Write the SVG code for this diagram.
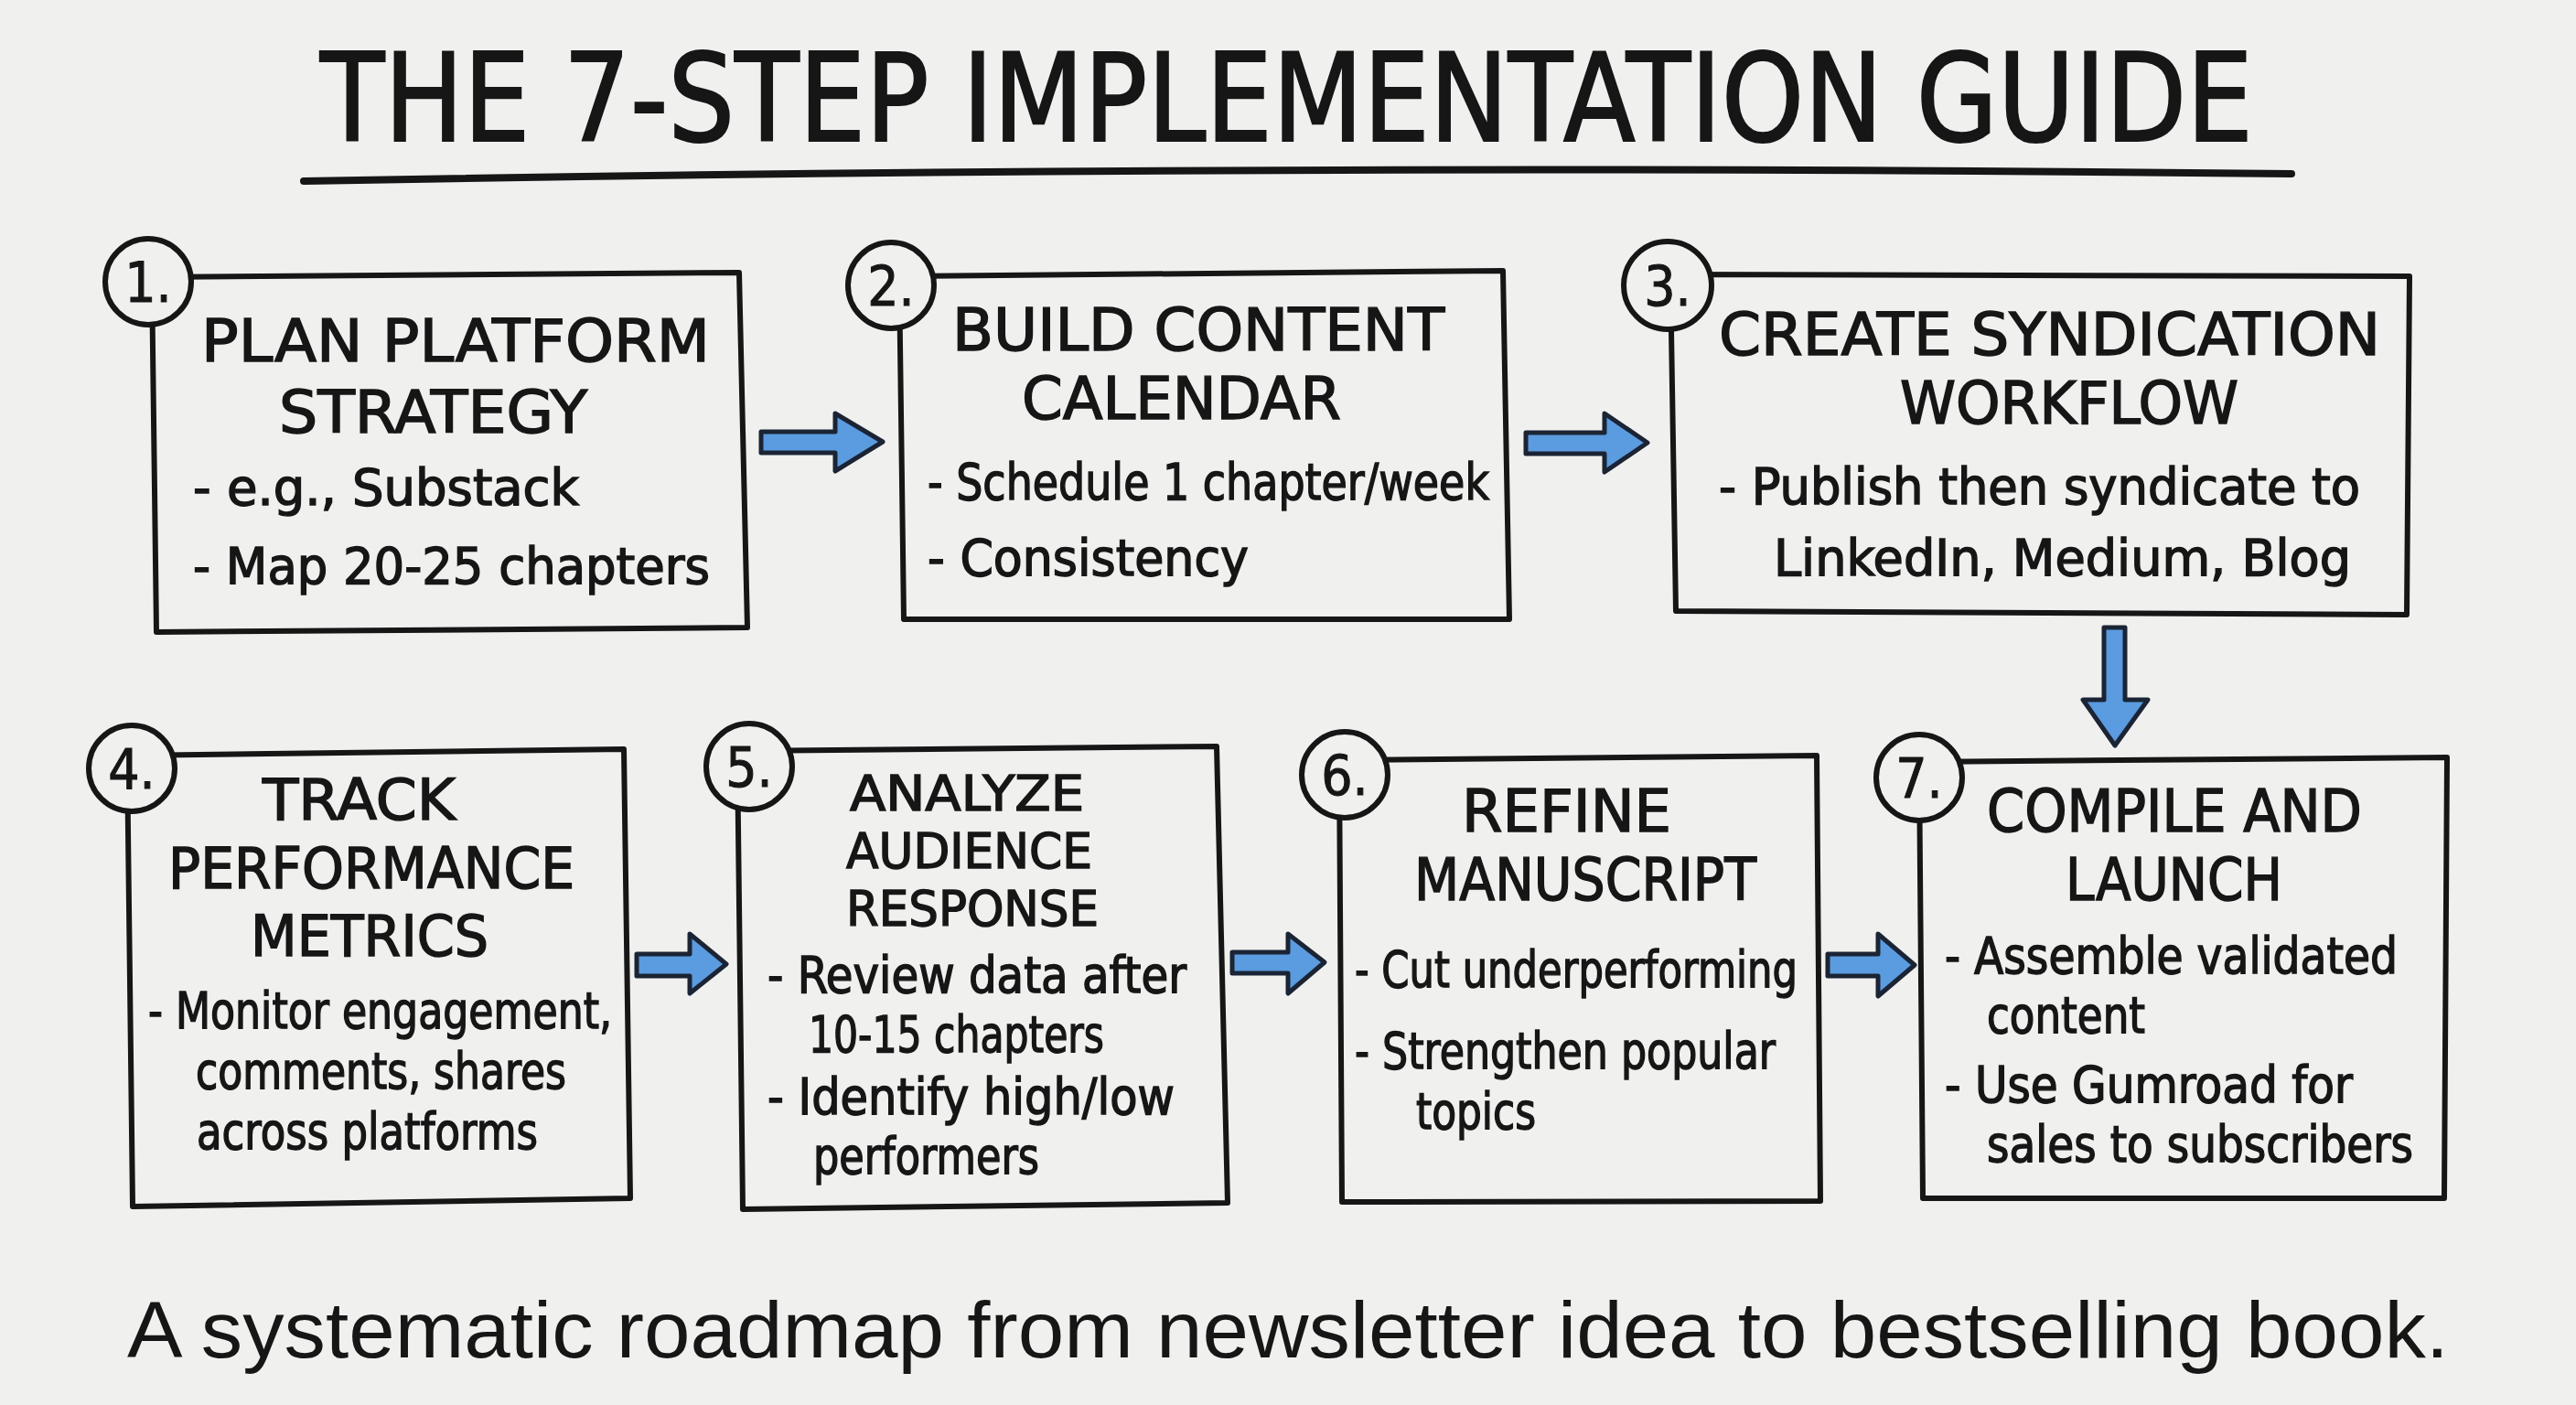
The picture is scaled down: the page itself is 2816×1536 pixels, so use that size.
<svg xmlns="http://www.w3.org/2000/svg" width="2816" height="1536" viewBox="0 0 2816 1536">
<defs>
<style>
.bg{fill:#f0f0ee}
.box{fill:none;stroke:#161616;stroke-width:6;stroke-linejoin:round;stroke-linecap:round}
.num{fill:#f0f0ee;stroke:#161616;stroke-width:6}
.nt{font-family:"DejaVu Sans Condensed","Liberation Sans Narrow","Liberation Sans",sans-serif;font-size:60px;fill:#161616;stroke:#161616;stroke-width:1;text-anchor:middle}
.t{font-family:"DejaVu Sans Condensed","Liberation Sans Narrow","Liberation Sans",sans-serif;fill:#161616;stroke:#161616;stroke-width:1.4}
.h{font-size:64px}
.h4{font-size:62px}
.h5{font-size:54px}
.b{font-size:55px}
.title{font-family:"DejaVu Sans Condensed","Liberation Sans Narrow","Liberation Sans",sans-serif;font-size:134px;fill:#161616;stroke:#161616;stroke-width:2}
.foot{font-family:"Liberation Sans",Arial,sans-serif;font-size:88px;fill:#161616}
.arr{fill:#5b9bdf;stroke:#1b2435;stroke-width:5;stroke-linejoin:round}
</style>
</defs>
<rect class="bg" x="0" y="0" width="2816" height="1536"/>

<g id="title">
<text class="title" x="350" y="154" textLength="2113" lengthAdjust="spacingAndGlyphs">THE 7-STEP IMPLEMENTATION GUIDE</text>
<path d="M332,198 Q1400,178 2505,190" fill="none" stroke="#161616" stroke-width="8" stroke-linecap="round"/>
</g>

<g id="connectors">
<polygon class="arr" points="832,472 913,472 913,452 965,483 913,515 913,495 832,495"/>
<polygon class="arr" points="1668,473 1754,473 1754,452 1801,484 1754,516 1754,496 1668,496"/>
<polygon class="arr" points="2300,686 2323,686 2323,765 2348,765 2312,815 2277,765 2300,765"/>
<polygon class="arr" points="696,1043 754,1043 754,1021 794,1054 754,1086 754,1067 696,1067"/>
<polygon class="arr" points="1347,1041 1408,1041 1408,1021 1448,1052 1408,1086 1408,1064 1347,1064"/>
<polygon class="arr" points="1998,1043 2053,1043 2053,1021 2093,1055 2053,1089 2053,1067 1998,1067"/>
</g>

<g id="step1">
<path class="box" d="M166,303 L808,298 L817,686 L171,691 Z"/>
<circle class="num" cx="162" cy="308" r="47"/>
<text class="nt" x="162" y="330">1.</text>
<text class="t">
<tspan class="h" x="220" y="395" textLength="556" lengthAdjust="spacingAndGlyphs">PLAN PLATFORM</tspan>
<tspan class="h" x="305" y="473" textLength="337" lengthAdjust="spacingAndGlyphs">STRATEGY</tspan>
<tspan class="b" x="211" y="552" textLength="422" lengthAdjust="spacingAndGlyphs">- e.g., Substack</tspan>
<tspan class="b" x="211" y="638" textLength="565" lengthAdjust="spacingAndGlyphs">- Map 20-25 chapters</tspan>
</text>
</g>

<g id="step2">
<path class="box" d="M983,302 L1643,296 L1650,677 L988,677 Z"/>
<circle class="num" cx="974" cy="312" r="47"/>
<text class="nt" x="974" y="334">2.</text>
<text class="t">
<tspan class="h" x="1041" y="383" textLength="538" lengthAdjust="spacingAndGlyphs">BUILD CONTENT</tspan>
<tspan class="h" x="1117" y="458" textLength="349" lengthAdjust="spacingAndGlyphs">CALENDAR</tspan>
<tspan class="b" x="1014" y="546" textLength="614" lengthAdjust="spacingAndGlyphs">- Schedule 1 chapter/week</tspan>
<tspan class="b" x="1014" y="629" textLength="351" lengthAdjust="spacingAndGlyphs">- Consistency</tspan>
</text>
</g>

<g id="step3">
<path class="box" d="M1826,300 L2634,302 L2631,672 L1832,668 Z"/>
<circle class="num" cx="1823" cy="312" r="48"/>
<text class="nt" x="1823" y="334">3.</text>
<text class="t">
<tspan class="h" x="1879" y="388" textLength="723" lengthAdjust="spacingAndGlyphs">CREATE SYNDICATION</tspan>
<tspan class="h" x="2077" y="463" textLength="370" lengthAdjust="spacingAndGlyphs">WORKFLOW</tspan>
<tspan class="b" x="1879" y="551" textLength="701" lengthAdjust="spacingAndGlyphs">- Publish then syndicate to</tspan>
<tspan class="b" x="1939" y="629" textLength="631" lengthAdjust="spacingAndGlyphs">LinkedIn, Medium, Blog</tspan>
</text>
</g>

<g id="step4">
<path class="box" d="M139,826 L682,819 L689,1310 L145,1319 Z"/>
<circle class="num" cx="144" cy="840" r="47"/>
<text class="nt" x="144" y="862">4.</text>
<text class="t">
<tspan class="h4" x="287" y="896" textLength="211" lengthAdjust="spacingAndGlyphs">TRACK</tspan>
<tspan class="h4" x="184" y="971" textLength="444" lengthAdjust="spacingAndGlyphs">PERFORMANCE</tspan>
<tspan class="h4" x="274" y="1045" textLength="260" lengthAdjust="spacingAndGlyphs">METRICS</tspan>
<tspan class="b" x="162" y="1124" textLength="507" lengthAdjust="spacingAndGlyphs">- Monitor engagement,</tspan>
<tspan class="b" x="214" y="1190" textLength="405" lengthAdjust="spacingAndGlyphs">comments, shares</tspan>
<tspan class="b" x="215" y="1256" textLength="373" lengthAdjust="spacingAndGlyphs">across platforms</tspan>
</text>
</g>

<g id="step5">
<path class="box" d="M806,821 L1330,816 L1342,1315 L812,1322 Z"/>
<circle class="num" cx="819" cy="838" r="47"/>
<text class="nt" x="819" y="860">5.</text>
<text class="t">
<tspan class="h5" x="929" y="886" textLength="256" lengthAdjust="spacingAndGlyphs">ANALYZE</tspan>
<tspan class="h5" x="925" y="949" textLength="269" lengthAdjust="spacingAndGlyphs">AUDIENCE</tspan>
<tspan class="h5" x="925" y="1012" textLength="276" lengthAdjust="spacingAndGlyphs">RESPONSE</tspan>
<tspan class="b" x="839" y="1085" textLength="458" lengthAdjust="spacingAndGlyphs">- Review data after</tspan>
<tspan class="b" x="884" y="1150" textLength="323" lengthAdjust="spacingAndGlyphs">10-15 chapters</tspan>
<tspan class="b" x="839" y="1218" textLength="445" lengthAdjust="spacingAndGlyphs">- Identify high/low</tspan>
<tspan class="b" x="889" y="1283" textLength="247" lengthAdjust="spacingAndGlyphs">performers</tspan>
</text>
</g>

<g id="step6">
<path class="box" d="M1464,831 L1986,826 L1990,1313 L1467,1314 Z"/>
<circle class="num" cx="1470" cy="847" r="47"/>
<text class="nt" x="1470" y="869">6.</text>
<text class="t">
<tspan class="h" x="1598" y="909" textLength="229" lengthAdjust="spacingAndGlyphs">REFINE</tspan>
<tspan class="h" x="1546" y="984" textLength="374" lengthAdjust="spacingAndGlyphs">MANUSCRIPT</tspan>
<tspan class="b" x="1481" y="1079" textLength="484" lengthAdjust="spacingAndGlyphs">- Cut underperforming</tspan>
<tspan class="b" x="1481" y="1168" textLength="460" lengthAdjust="spacingAndGlyphs">- Strengthen popular</tspan>
<tspan class="b" x="1548" y="1234" textLength="131" lengthAdjust="spacingAndGlyphs">topics</tspan>
</text>
</g>

<g id="step7">
<path class="box" d="M2098,833 L2675,828 L2672,1310 L2102,1310 Z"/>
<circle class="num" cx="2098" cy="850" r="47"/>
<text class="nt" x="2098" y="872">7.</text>
<text class="t">
<tspan class="h" x="2172" y="909" textLength="410" lengthAdjust="spacingAndGlyphs">COMPILE AND</tspan>
<tspan class="h" x="2258" y="984" textLength="237" lengthAdjust="spacingAndGlyphs">LAUNCH</tspan>
<tspan class="b" x="2126" y="1064" textLength="495" lengthAdjust="spacingAndGlyphs">- Assemble validated</tspan>
<tspan class="b" x="2172" y="1129" textLength="173" lengthAdjust="spacingAndGlyphs">content</tspan>
<tspan class="b" x="2126" y="1205" textLength="446" lengthAdjust="spacingAndGlyphs">- Use Gumroad for</tspan>
<tspan class="b" x="2172" y="1270" textLength="466" lengthAdjust="spacingAndGlyphs">sales to subscribers</tspan>
</text>
</g>

<g id="footer">
<text class="foot" x="139" y="1484" textLength="2538" lengthAdjust="spacingAndGlyphs">A systematic roadmap from newsletter idea to bestselling book.</text>
</g>
</svg>
